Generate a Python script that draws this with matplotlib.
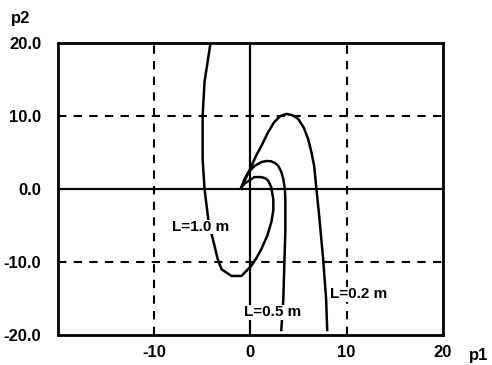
import matplotlib.pyplot as plt
import numpy as np

# curves (p1, p2)
p1_02 = [-0.93, -0.40, 0.10, 0.60, 1.14, 1.80, 2.49, 3.10, 3.73, 4.40, 4.97, 5.55, 6.0, 6.35,
         6.63, 6.84, 7.15, 7.56, 7.87, 7.98]
p2_02 = [0.27, 1.70, 3.15, 4.60, 5.9, 7.70, 9.2, 10.0, 10.3, 10.1, 9.6, 8.40, 6.85, 5.00,
         3.15, 0.27, -3.7, -9.6, -15.1, -19.3]

p1_05 = [-0.93, -0.60, -0.21, 0.41, 1.14, 1.70, 2.18, 2.60, 2.9, 3.20, 3.42, 3.58, 3.63,
         3.63, 3.52, 3.42, 3.21]
p2_05 = [0.27, 1.40, 2.3, 3.15, 3.7, 3.85, 3.8, 3.55, 3.15, 2.40, 1.37, 0.00, -1.37,
         -5.9, -10.5, -15.1, -19.3]

p1_10 = [-0.93, -0.60, -0.21, 0.41, 1.14, 1.60, 1.87, 2.15, 2.38, 2.38, 2.18, 1.75, 1.14,
         0.60, 0.10, -0.93, -1.97, -3.0, -3.40, -3.73, -4.35, -4.77, -4.97, -4.97,
         -4.77, -4.15]
p2_10 = [0.27, 0.75, 1.1, 1.64, 1.64, 1.45, 1.1, 0.30, -1.37, -2.90, -4.5, -6.40, -8.2,
         -9.50, -10.5, -11.9, -11.9, -11.0, -9.6, -7.8, -4.5, 0.0, 4.1, 10.0,
         14.7, 20.0]

labels = ["L=0.2 m", "L=0.5 m", "L=1.0 m"]
label_pos = [(11.3, -14.4), (2.3, -16.9), (-5.2, -5.2)]

xticks = [-10, 0, 10, 20]
yticks = [20, 10, 0, -10, -20]

fnt = ['Liberation Sans Narrow', 'Liberation Sans', 'DejaVu Sans']

fig = plt.figure(figsize=(4.92, 3.65), dpi=100)
ax = fig.add_axes([0.118, 0.082, 0.782, 0.800])

for x, y in [(p1_02, p2_02), (p1_05, p2_05), (p1_10, p2_10)]:
    ax.plot(x, y, color='black', lw=1.8, solid_joinstyle='round')

for s, (x, y) in zip(labels, label_pos):
    ax.text(x, y, s, ha='center', va='center', fontsize=11, fontweight='bold',
            family=fnt, bbox=dict(fc='white', ec='none', pad=0.3))

# grid
for v in [-10, 10]:
    ax.axvline(v, color='black', lw=1.5, ls=(0, (4, 3.5)), zorder=0)
    ax.axhline(v, color='black', lw=1.5, ls=(0, (4, 3.5)), zorder=0)
ax.axvline(0, color='black', lw=1.6, zorder=0)
ax.axhline(0, color='black', lw=1.6, zorder=0)

ax.set_xlim(-20, 20)
ax.set_ylim(-20, 20)
ax.set_xticks(xticks)
ax.set_xticklabels([str(t) for t in xticks])
ax.set_yticks(yticks)
ax.set_yticklabels(["%.1f" % t for t in yticks])
ax.tick_params(axis='y', length=0, pad=12, labelsize=12)
ax.tick_params(axis='x', length=0, pad=7, labelsize=12)
for lab in ax.get_xticklabels() + ax.get_yticklabels():
    lab.set_fontweight('bold')
    lab.set_family(fnt)
for sp in ax.spines.values():
    sp.set_linewidth(2)

fig.text(0.022, 0.948, "p2", fontsize=12, fontweight='bold', family=fnt, ha='left', va='center')
fig.text(0.992, 0.026, "p1", fontsize=12, fontweight='bold', family=fnt, ha='right', va='center')

fig.savefig("out.png", dpi=100)
